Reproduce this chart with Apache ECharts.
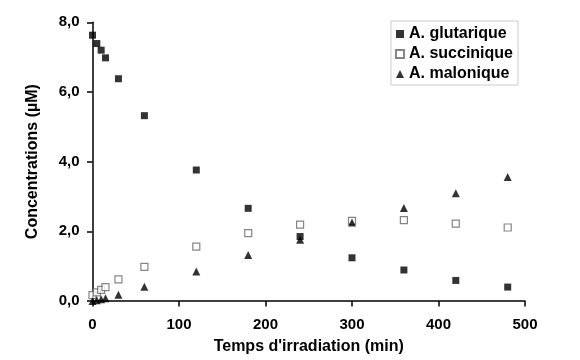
<!DOCTYPE html>
<html><head><meta charset="utf-8">
<script src="https://cdn.jsdelivr.net/npm/echarts@6/dist/echarts.min.js"></script>
<style>html,body{margin:0;padding:0;background:#fff}#c{width:580px;height:360px}</style>
</head><body><div id="c"></div>
<script>
var times = [0, 5, 10, 15, 30, 60, 120, 180, 240, 300, 360, 420, 480];
var glutarique = [7.63, 7.39, 7.20, 6.98, 6.38, 5.32, 3.76, 2.66, 1.85, 1.24, 0.89, 0.59, 0.40];
var succinique = [0.17, 0.25, 0.32, 0.40, 0.62, 0.98, 1.56, 1.95, 2.19, 2.30, 2.32, 2.22, 2.11];
var malonique = [0.00, 0.02, 0.05, 0.08, 0.18, 0.41, 0.85, 1.32, 1.76, 2.25, 2.67, 3.09, 3.56];
var seriesNames = ['A. glutarique', 'A. succinique', 'A. malonique'];

function pairs(ys){ return times.map(function(t,i){ return [t, ys[i]]; }); }
var font = 'Liberation Sans, Arial, sans-serif';
var chart = echarts.init(document.getElementById('c'), null, {renderer:'canvas'});
chart.setOption({
  animation: false,
  backgroundColor: '#fff',
  grid: {left: 92.5, right: 55, top: 22.3, bottom: 58.7},
  legend: {
    orient: 'vertical', right: 62, top: 21,
    padding: [5, 5, 3, 4], itemGap: 4,
    itemWidth: 8, itemHeight: 8,
    borderColor: '#cccccc', borderWidth: 1,
    textStyle: {fontFamily: font, fontWeight: 'bold', fontSize: 16, color: '#000'},
    data: [
      {name: seriesNames[0], icon: 'rect'},
      {name: seriesNames[1], icon: 'rect'},
      {name: seriesNames[2], icon: 'triangle'}
    ]
  },
  xAxis: {
    type: 'value', min: 0, max: 500, interval: 100,
    name: "Temps d'irradiation (min)", nameLocation: 'middle', nameGap: 38,
    nameTextStyle: {fontFamily: font, fontWeight: 'bold', fontSize: 16, color: '#000'},
    axisLine: {onZero: false, lineStyle: {color: '#000', width: 1.5}},
    axisTick: {show: true, length: 5.5, lineStyle: {color: '#000', width: 1.5}},
    axisLabel: {fontFamily: font, fontWeight: 'bold', fontSize: 15, color: '#000', margin: 16},
    splitLine: {show: false}
  },
  yAxis: {
    type: 'value', min: 0, max: 8, interval: 2,
    name: 'Concentrations (µM)', nameLocation: 'middle', nameGap: 51.5, nameRotate: 90,
    nameTextStyle: {fontFamily: font, fontWeight: 'bold', fontSize: 16, color: '#000'},
    axisLine: {show: true, onZero: false, lineStyle: {color: '#000', width: 1.5}},
    axisTick: {show: true, length: 5.5, lineStyle: {color: '#000', width: 1.5}},
    axisLabel: {fontFamily: font, fontWeight: 'bold', fontSize: 15, color: '#000', margin: 13,
      formatter: function(v){ return v.toFixed(1).replace('.', ','); }},
    splitLine: {show: false}
  },
  series: [
    {name: seriesNames[0], type: 'scatter', symbol: 'rect', symbolSize: 7,
     itemStyle: {color: '#000'}, data: pairs(glutarique), z: 3},
    {name: seriesNames[1], type: 'scatter', symbol: 'rect', symbolSize: 7,
     itemStyle: {color: '#fff', borderColor: '#666', borderWidth: 1.2}, data: pairs(succinique), z: 2},
    {name: seriesNames[2], type: 'scatter', symbol: 'triangle', symbolSize: 8,
     itemStyle: {color: '#000'}, data: pairs(malonique), z: 4}
  ]
});
</script></body></html>
